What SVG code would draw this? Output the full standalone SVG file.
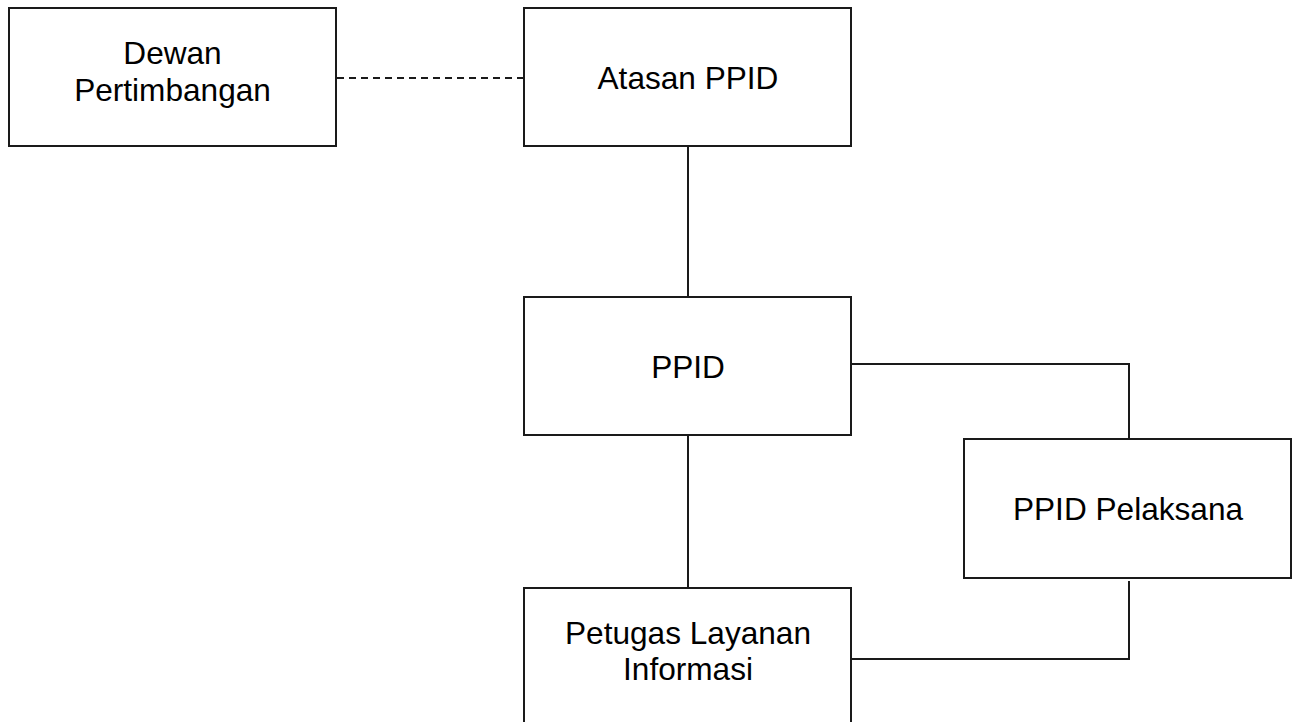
<svg xmlns="http://www.w3.org/2000/svg" width="1296" height="722" viewBox="0 0 1296 722">
<style>
.box{fill:#fff;stroke:#1a1a1a;stroke-width:2}
.ln{fill:none;stroke:#1a1a1a;stroke-width:2}
.dash{stroke-dasharray:7 5}
text{font-family:"Liberation Sans",Arial,sans-serif;font-size:31.6px;fill:#000;text-anchor:middle}
</style>
<rect width="1296" height="722" fill="#fff"/>
<g id="connectors">
<line class="ln dash" x1="337" y1="78" x2="523" y2="78"/>
<line class="ln" x1="688" y1="146" x2="688" y2="297"/>
<line class="ln" x1="688" y1="435" x2="688" y2="588"/>
<polyline class="ln" points="852,364 1129,364 1129,439"/>
<polyline class="ln" points="1129,581 1129,659 852,659"/>
</g>
<g id="dewan">
<rect class="box" x="9" y="8" width="327" height="138"/>
<text x="172.5" y="64">Dewan</text>
<text x="172.5" y="101">Pertimbangan</text>
</g>
<g id="atasan">
<rect class="box" x="524" y="8" width="327" height="138"/>
<text x="688" y="89">Atasan PPID</text>
</g>
<g id="ppid">
<rect class="box" x="524" y="297" width="327" height="138"/>
<text x="688" y="378">PPID</text>
</g>
<g id="pelaksana">
<rect class="box" x="964" y="439" width="327" height="139"/>
<text x="1128" y="520">PPID Pelaksana</text>
</g>
<g id="petugas">
<rect class="box" x="524" y="588" width="327" height="150"/>
<text x="688" y="644">Petugas Layanan</text>
<text x="688" y="680">Informasi</text>
</g>
</svg>
